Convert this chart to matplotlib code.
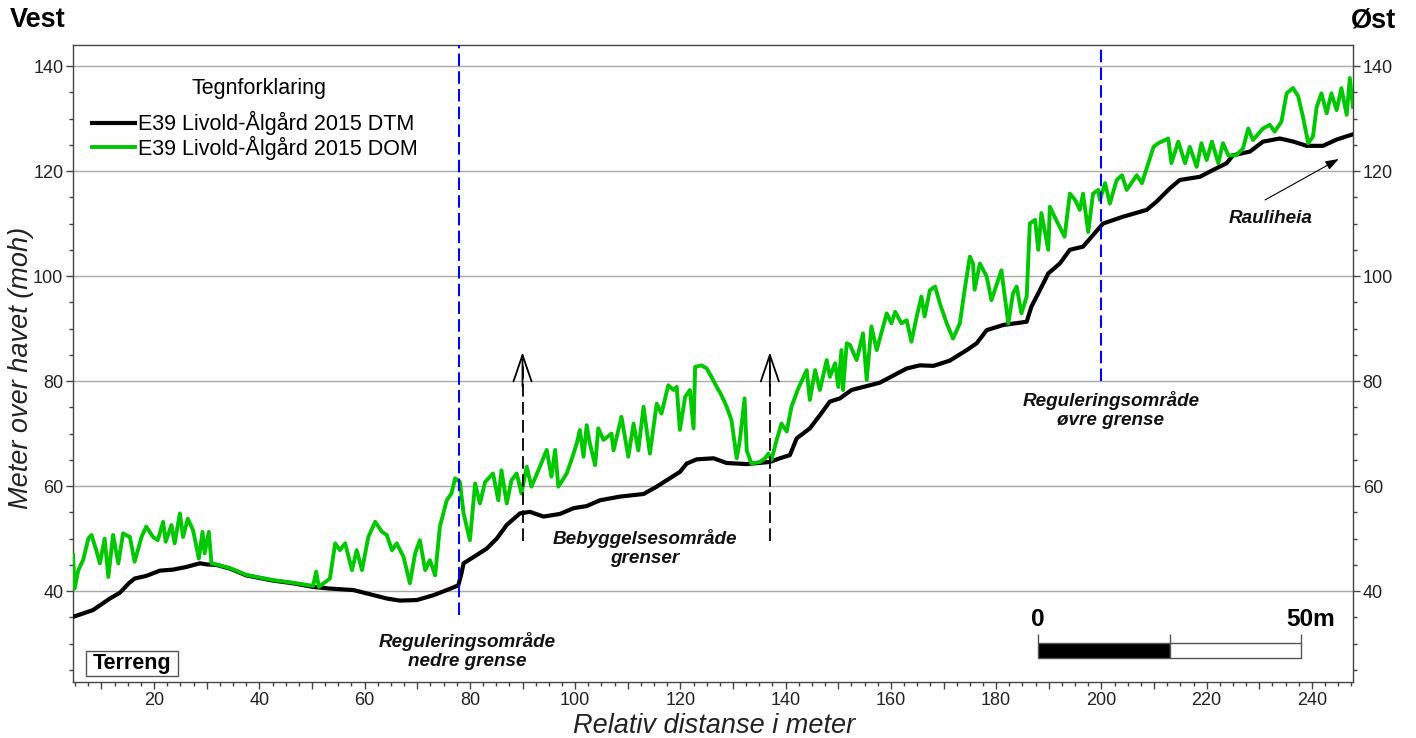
import numpy as np
import matplotlib
matplotlib.use("Agg")
import matplotlib.pyplot as plt
from matplotlib.ticker import MultipleLocator, FuncFormatter
from matplotlib.patches import Rectangle

plt.rcParams['font.family'] = ['Liberation Sans', 'DejaVu Sans']

# terrengmodell (DTM): relativ distanse [m], hoyde [moh]
dtm = np.array([
    [4.6, 35.1], [8.4, 36.4], [9.7, 37.3], [11.6, 38.6], [13.5, 39.7], [15.2, 41.5],
    [16.3, 42.4], [18.5, 42.9], [21.1, 43.9], [23.6, 44.1], [26.1, 44.6], [28.7, 45.3],
    [29.9, 45.1], [31.8, 45.0], [34.4, 44.3], [37.5, 43.0], [42.6, 42.0], [46.4, 41.5],
    [50.2, 40.8], [53.3, 40.5], [57.9, 40.2], [64.2, 38.6], [66.7, 38.2], [69.9, 38.3],
    [73.0, 39.2], [75.6, 40.2], [77.8, 41.1], [78.4, 43.4], [78.8, 45.3], [80.7, 46.5],
    [83.2, 48.1], [85.1, 50.0], [87.0, 52.6], [89.5, 54.8], [91.4, 55.1], [94.0, 54.2],
    [97.1, 54.7], [99.7, 55.8], [102.2, 56.2], [104.7, 57.3], [108.5, 58.0], [113.0, 58.5],
    [115.5, 59.9], [118.0, 61.5], [119.9, 62.7], [121.2, 64.3], [123.1, 65.1], [126.3, 65.3],
    [128.8, 64.4], [132.6, 64.2], [137.0, 64.6], [138.9, 65.3], [140.8, 65.9], [142.1, 69.1],
    [144.6, 71.0], [146.5, 73.5], [148.4, 76.1], [150.3, 76.7], [152.5, 78.3], [157.9, 79.7],
    [163.0, 82.4], [165.5, 83.0], [168.1, 82.9], [171.2, 83.9], [174.4, 85.9], [176.3, 87.2],
    [178.2, 89.7], [181.4, 90.7], [185.8, 91.3], [186.7, 94.2], [188.3, 97.3], [189.9, 100.5],
    [192.1, 102.4], [194.0, 105.0], [196.5, 105.6], [198.4, 107.8], [200.3, 110.0], [204.1, 111.3],
    [208.6, 112.6], [210.5, 114.2], [213.0, 116.7], [214.9, 118.3], [218.7, 118.9], [221.2, 120.2],
    [223.8, 121.5], [225.0, 123.0], [228.2, 123.7], [230.7, 125.6], [233.9, 126.2], [236.5, 125.6],
    [239.0, 124.8], [242.1, 124.8], [244.7, 126.0], [247.8, 127.0],
])

# overflatemodell (DOM)
dom = np.array([
    [4.6, 46.9], [4.9, 40.5], [5.6, 44.0], [6.5, 45.9], [7.5, 50.0], [8.1, 50.7], [9.0, 47.8],
    [9.7, 45.3], [10.6, 50.0], [11.3, 42.7], [12.2, 50.7], [13.2, 45.3], [14.1, 51.0], [15.4, 50.3],
    [16.3, 45.6], [17.6, 50.3], [18.5, 52.3], [19.8, 50.3], [20.7, 49.7], [21.7, 53.2], [22.2, 49.4],
    [23.3, 52.6], [23.9, 49.1], [24.9, 54.8], [25.5, 50.3], [26.4, 53.8], [27.4, 51.6], [28.5, 46.2],
    [29.2, 51.3], [29.6, 47.2], [30.4, 51.3], [30.9, 45.3], [31.8, 45.1], [34.4, 44.4], [37.5, 43.1],
    [42.6, 42.1], [46.4, 41.6], [50.2, 41.0], [50.8, 43.7], [51.3, 40.8], [53.4, 42.4], [54.4, 49.1],
    [55.3, 47.8], [56.3, 49.1], [57.6, 44.0], [58.5, 47.8], [59.5, 44.0], [60.7, 50.3], [62.0, 53.2],
    [63.3, 51.3], [64.2, 50.7], [65.2, 47.8], [66.1, 49.1], [67.4, 46.5], [68.6, 41.5], [69.6, 47.2],
    [70.5, 49.7], [71.5, 44.0], [72.4, 45.9], [73.4, 43.0], [74.3, 52.3], [75.6, 57.3], [76.5, 58.6],
    [77.2, 61.5], [78.1, 60.8], [78.8, 54.8], [80.0, 49.7], [81.0, 60.5], [81.9, 56.7], [82.9, 60.8],
    [84.4, 62.4], [85.4, 57.3], [86.0, 63.0], [87.0, 56.7], [87.9, 61.1], [88.9, 62.4], [89.8, 58.6],
    [90.8, 63.7], [91.7, 59.9], [93.3, 63.7], [94.6, 66.9], [95.5, 61.8], [96.2, 66.9], [96.8, 59.9],
    [98.4, 62.4], [99.3, 65.0], [100.3, 68.1], [100.9, 70.7], [101.6, 65.6], [102.2, 71.6], [102.8, 68.1],
    [103.8, 64.0], [104.4, 71.0], [105.4, 68.8], [106.9, 70.0], [107.3, 66.8], [108.8, 73.2], [110.1, 65.6],
    [111.1, 71.9], [112.0, 66.8], [113.0, 75.1], [114.2, 66.2], [115.5, 75.7], [116.4, 73.8], [117.7, 79.2],
    [118.7, 78.3], [119.3, 78.9], [119.9, 70.7], [120.9, 77.0], [121.8, 78.3], [122.5, 71.0], [122.8, 82.7],
    [124.0, 83.0], [125.0, 82.4], [125.9, 80.8], [126.9, 78.9], [127.8, 77.3], [128.8, 75.1], [129.7, 72.6],
    [130.7, 65.3], [131.3, 68.8], [132.2, 76.7], [132.6, 66.8], [133.5, 64.3], [135.1, 64.6], [136.1, 65.3],
    [136.7, 66.2], [137.3, 65.0], [138.3, 68.8], [139.2, 71.9], [140.2, 70.4], [141.1, 75.1], [142.4, 78.6],
    [143.4, 80.8], [144.0, 82.1], [144.6, 76.4], [145.6, 82.1], [146.5, 78.3], [147.8, 84.0], [148.4, 80.8],
    [149.4, 83.4], [150.0, 78.9], [150.6, 85.9], [150.9, 78.3], [151.6, 87.2], [152.2, 86.9], [153.5, 84.0],
    [154.7, 89.1], [155.4, 80.2], [156.3, 90.4], [157.3, 85.9], [159.2, 92.9], [160.1, 91.0], [160.8, 93.2],
    [162.0, 91.0], [163.0, 91.6], [163.9, 87.5], [164.9, 92.3], [165.8, 96.1], [166.4, 92.3], [167.4, 97.3],
    [168.4, 98.0], [169.3, 94.8], [170.6, 91.0], [171.8, 88.1], [173.1, 91.0], [174.1, 98.0], [175.0, 103.7],
    [175.6, 102.4], [175.9, 97.4], [176.9, 102.4], [178.2, 99.9], [179.1, 95.4], [181.0, 101.1], [182.3, 91.0],
    [183.2, 96.7], [183.9, 98.0], [184.8, 92.9], [185.8, 96.1], [186.4, 110.0], [187.4, 110.7], [188.0, 105.0],
    [188.6, 112.0], [189.9, 105.0], [190.2, 113.2], [191.5, 110.5], [193.0, 107.5], [194.0, 115.7], [195.0, 114.5],
    [195.9, 112.6], [196.5, 115.7], [197.5, 108.4], [198.4, 115.7], [199.4, 116.4], [199.7, 114.5], [200.7, 117.7],
    [201.6, 113.8], [202.9, 118.3], [203.9, 119.2], [204.8, 116.4], [206.7, 119.2], [207.7, 117.7], [208.3, 119.6],
    [209.9, 124.6], [210.8, 125.3], [212.7, 126.2], [213.3, 121.5], [214.6, 125.6], [215.9, 121.5], [216.8, 124.6],
    [218.1, 120.8], [219.0, 125.3], [220.0, 122.1], [221.0, 125.6], [222.2, 121.5], [223.1, 125.3], [224.1, 123.0],
    [225.6, 123.0], [226.9, 124.3], [227.9, 128.1], [228.8, 125.9], [230.7, 128.1], [232.0, 128.8], [232.9, 127.5],
    [234.2, 129.4], [235.2, 134.8], [236.4, 135.8], [237.4, 134.2], [238.3, 130.3], [239.3, 125.3], [240.2, 126.6],
    [240.9, 132.2], [241.8, 134.8], [242.8, 131.0], [243.7, 134.8], [244.7, 131.6], [245.6, 135.8], [246.6, 130.7],
    [247.2, 137.7], [247.8, 132.2],
])

reg_bounds = [78, 200]          # reguleringsomraade nedre / ovre grense
settle_bounds = [90, 137]       # bebyggelsesomraade
scale_start, scale_len = 188, 50

fig = plt.figure(figsize=(14.16, 7.38), dpi=100)
ax = fig.add_axes([0.0516, 0.0759, 0.9039, 0.8631])
ax.set_xlim(4.6, 247.8)
ax.set_ylim(22.7, 144)

ax.plot(dtm[:, 0], dtm[:, 1], color='black', lw=3.0, zorder=3,
        solid_joinstyle='round', label='E39 Livold-Ålgård 2015 DTM')
ax.plot(dom[:, 0], dom[:, 1], color='#00c800', lw=2.8, zorder=4,
        solid_joinstyle='round', label='E39 Livold-Ålgård 2015 DOM')

# grenser for reguleringsomraadet
ax.vlines(reg_bounds[0], 35.4, 144, colors='#0000ff', lw=1.5, linestyles=(0, (6, 2.5)), zorder=5)
ax.vlines(reg_bounds[1], 80.0, 144, colors='#0000ff', lw=1.5, linestyles=(0, (6, 2.5)), zorder=5)

# piler for bebyggelsesomraadet
for xb in settle_bounds:
    ax.vlines(xb, 49.5, 84.8, colors='black', lw=1.3, linestyles=(0, (7, 3)), zorder=5)
    ax.annotate('', xy=(xb, 85.5), xytext=(xb, 79.0),
                arrowprops=dict(arrowstyle='->,head_length=1.9,head_width=0.65',
                                lw=1.3, color='black', shrinkA=0, shrinkB=0), zorder=5)

txt = dict(fontsize=13.6, fontweight='bold', fontstyle='italic', ha='center',
           va='center', linespacing=1.15, color='#111111')
ax.text(79.5, 28.6, 'Reguleringsområde\nnedre grense', **txt)
ax.text(113.3, 48.2, 'Bebyggelsesområde\ngrenser', **txt)
ax.text(201.8, 74.5, 'Reguleringsområde\nøvre grense', **txt)
ax.text(232.2, 110.9, 'Rauliheia', **txt)
ax.annotate('', xy=(245.1, 122.3), xytext=(231.1, 114.5),
            arrowprops=dict(arrowstyle='-|>,head_length=0.8,head_width=0.28',
                            lw=0.8, color='black', shrinkA=0, shrinkB=0))

# Terreng-boks
ax.add_patch(Rectangle((7.0, 23.8), 17.5, 4.8, fc='white', ec='#555555', lw=1.0, zorder=6))
ax.text(15.75, 26.2, 'Terreng', fontsize=15.5, fontweight='bold', ha='center', va='center', zorder=7)

# maalestokk
half = scale_len / 2
ax.add_patch(Rectangle((scale_start, 27.2), half, 3.0, fc='black', ec='#555555', lw=1.0, zorder=6))
ax.add_patch(Rectangle((scale_start + half, 27.2), half, 3.0, fc='white', ec='#555555', lw=1.0, zorder=6))
ax.vlines([scale_start, scale_start + half, scale_start + scale_len], 30.2, 31.8,
          colors='#555555', lw=1.0, zorder=6)
ax.text(scale_start, 32.4, '0', fontsize=17.6, fontweight='bold', ha='center', va='bottom')
ax.annotate('50m', xy=(scale_start + scale_len, 32.4), xytext=(7, 0), textcoords='offset points',
            fontsize=17.6, fontweight='bold', ha='center', va='bottom')

# akser
ax.xaxis.set_major_locator(MultipleLocator(10))
ax.xaxis.set_major_formatter(FuncFormatter(lambda v, p: f'{v:.0f}' if v % 20 == 0 else ''))
ax.xaxis.set_minor_locator(MultipleLocator(2.5))
ax.yaxis.set_major_locator(MultipleLocator(20))
ax.yaxis.set_minor_locator(MultipleLocator(5))
ax.tick_params(which='major', length=5, width=1, color='#444444', labelsize=13,
               labelcolor='#222222', pad=2)
ax.tick_params(which='minor', length=2.8, width=1, color='#444444')
ax.tick_params(axis='y', which='both', right=True, labelright=True)
ax.yaxis.grid(True, color='#a8a8a8', lw=1.0)
ax.set_axisbelow(True)
for s in ax.spines.values():
    s.set_color('#444444')
    s.set_linewidth(1.0)

# tegnforklaring
ax.legend(loc='upper left', bbox_to_anchor=(0.0148, 0.896), frameon=False,
          fontsize=15.5, handlelength=2.0, handletextpad=0.15, labelspacing=0.0,
          borderpad=0, borderaxespad=0)
ax.text(0.145, 0.9325, 'Tegnforklaring', transform=ax.transAxes, fontsize=15.5,
        ha='center', va='center')

fig.text(10 / 1416, 1 - 20 / 738, 'Vest', fontsize=19.5, fontweight='bold', ha='left', va='center')
fig.text(1396 / 1416, 1 - 20 / 738, 'Øst', fontsize=19.5, fontweight='bold', ha='right', va='center')
fig.text(0.5046, 12 / 738, 'Relativ distanse i meter', fontsize=19.5, fontstyle='italic',
         ha='center', va='center', color='#222222')
fig.text(21 / 1416, 1 - 368 / 738, 'Meter over havet (moh)', fontsize=19.5, fontstyle='italic',
         rotation=90, ha='center', va='center', color='#222222')

fig.savefig('out.png', dpi=100)
